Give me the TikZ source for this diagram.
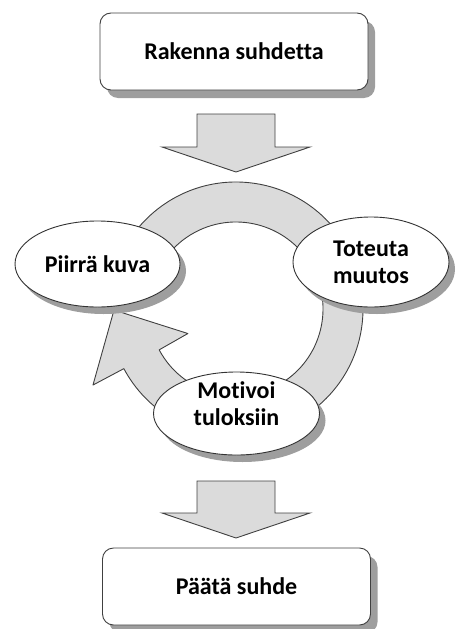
\documentclass[tikz,border=0pt]{standalone}
\usepackage{fontspec}
\setmainfont{Carlito}[Ligatures=NoCommon]
\usetikzlibrary{shapes.geometric,shadows,calc}
\tikzset{
  box/.style={draw=black!75, fill=white, line width=0.9pt, rounded corners=11pt,
    minimum width=268pt, minimum height=77pt, inner sep=0pt,
    font=\bfseries\fontsize{24}{27}\selectfont,
    drop shadow={shadow xshift=7pt, shadow yshift=-8pt, fill=black!38, opacity=1}},
  bubble/.style={ellipse, draw=black!80, fill=white, line width=0.9pt, inner sep=0pt,
    align=center, font=\bfseries\fontsize{24}{27}\selectfont,
    drop shadow={shadow xshift=6pt, shadow yshift=-7pt, fill=black!38, opacity=1}},
  txt/.style={align=center, inner sep=0pt, font=\bfseries\fontsize{24}{27}\selectfont},
  ring/.style={draw=black!75, fill=black!14, line width=0.9pt, line join=round},
  blockarrow/.style={draw=black!75, fill=black!14, line width=0.9pt}
}
\begin{document}
\begin{tikzpicture}[x=1pt, y=1pt]
		\useasboundingbox (0,0) rectangle (457,-629);

		% top and bottom boxes
		\node[box] (rakenna) at (234,-51.5) {Rakenna suhdetta};
		\node[box] (paata) at (236.5,-586.5) {Päätä suhde};

		% big arrows
		\coordinate (nuoli1) at (236,-114);
		\coordinate (nuoli2) at (236,-481);
		\draw[blockarrow] (nuoli1) ++(-39,0) -- ++(78,0) -- ++(0,-33) -- ++(35,0)
			-- ++(-74,-25) -- ++(-74,25) -- ++(35,0) -- cycle;
		\draw[blockarrow] (nuoli2) ++(-39,0) -- ++(78,0) -- ++(0,-32) -- ++(35,0)
			-- ++(-74,-25) -- ++(-74,25) -- ++(35,0) -- cycle;

		% cycle ring
		\coordinate (rengas) at (236,-309);
		\draw[ring] (rengas) ++(172:127) arc[start angle=172, end angle=-152, radius=127]
			-- ($(rengas)+(-152:162)$) -- ($(rengas)+(180.5:122)$) -- ($(rengas)+(-153:54)$)
			-- ($(rengas)+(-152:87)$) arc[start angle=-152, end angle=172, radius=87] -- cycle;

		% steps
		\node[bubble, minimum width=165pt, minimum height=86pt] (piirra) at (97.5,-264) {Piirrä kuva};
		\node[bubble, minimum width=156pt, minimum height=90pt] (toteuta) at (371,-262) {Toteuta\\muutos};
		\node[bubble, minimum width=166pt, minimum height=83pt] (motivoi) at (236.5,-413.5) {};
		\node[txt] (motivoitxt) at ([yshift=10pt]motivoi.center) {Motivoi\\tuloksiin};
	\end{tikzpicture}
\end{document}
